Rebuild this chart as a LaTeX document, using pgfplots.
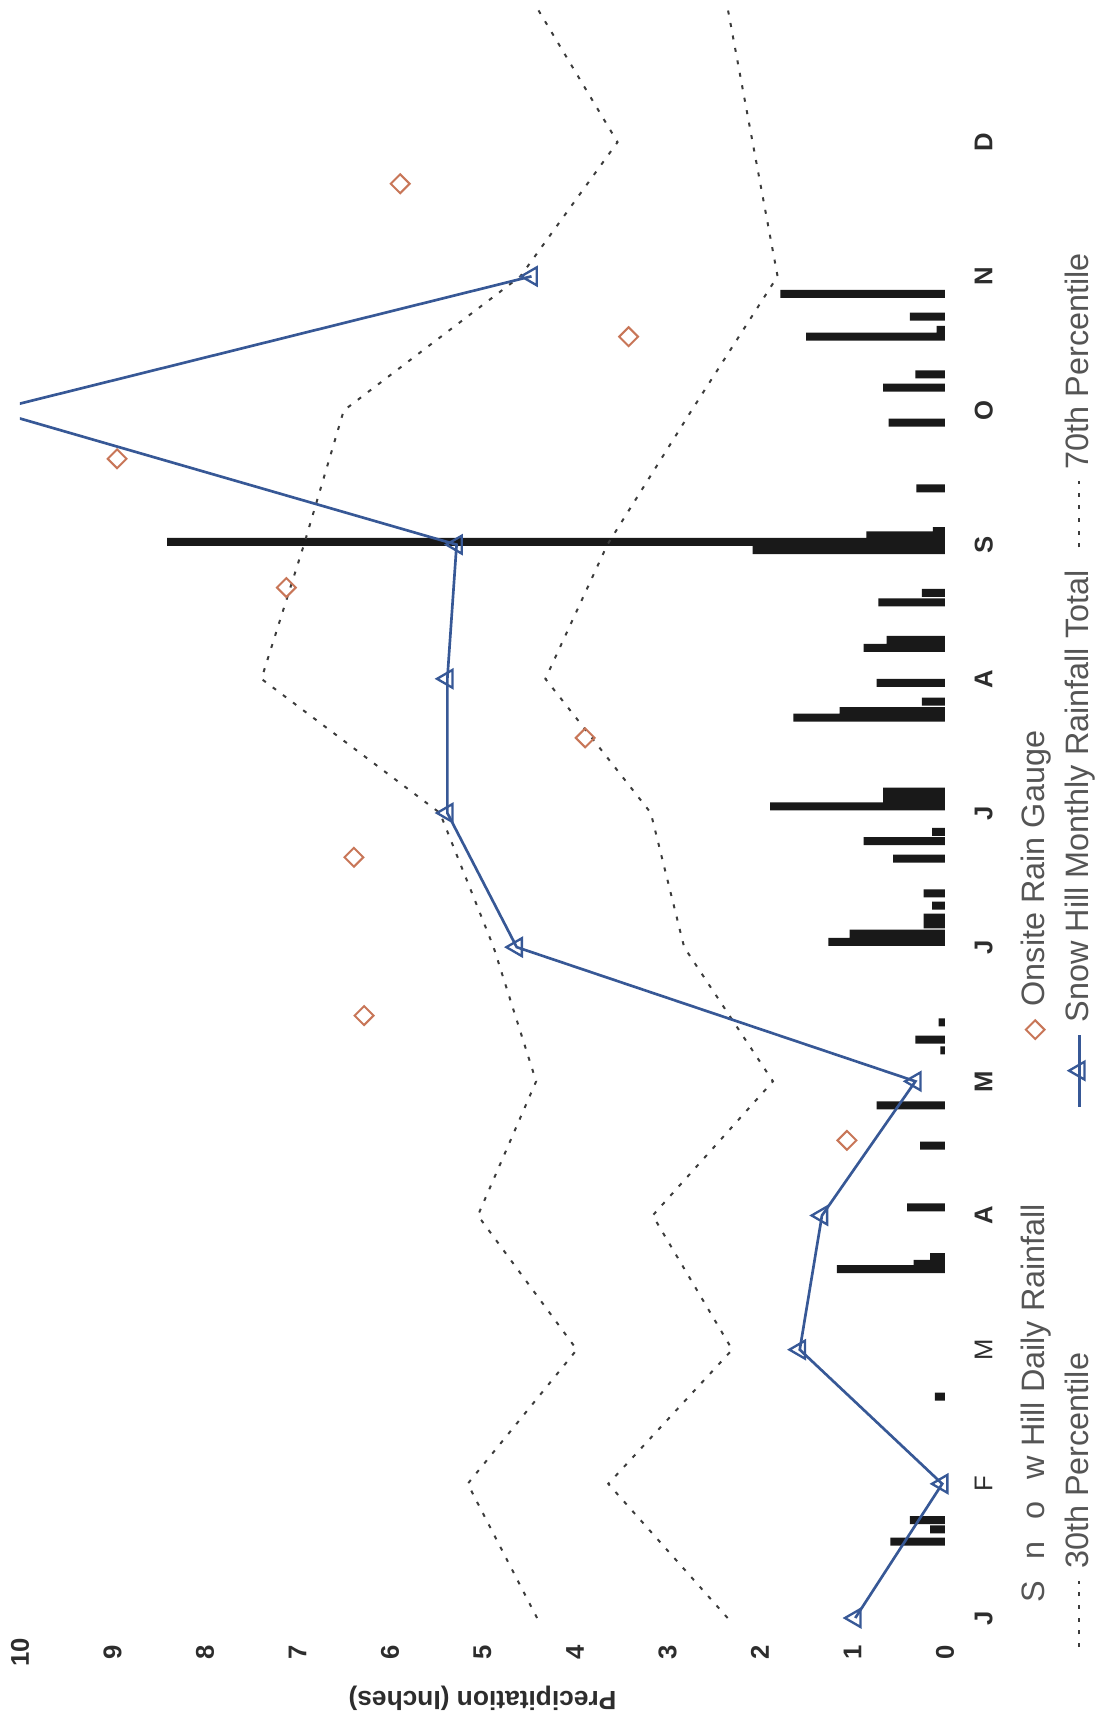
\documentclass[border=0pt]{standalone}
\usepackage{fontspec}
\setmainfont{Liberation Sans}
\usepackage{graphicx}
\usepackage{pgfplots}
\pgfplotsset{compat=1.18}
\definecolor{lineblue}{RGB}{55,88,150}
\definecolor{gauge}{RGB}{200,118,88}
\definecolor{pct}{RGB}{60,60,60}
\definecolor{barblack}{RGB}{25,25,25}
\definecolor{txt}{RGB}{45,45,45}
\definecolor{legtxt}{RGB}{85,85,85}
\pgfplotsset{
  legline/.style={legend image code/.code={\draw[##1] (0pt,0pt) -- (19.8pt,0pt);}},
  legmonthly/.style={legend image code/.code={\draw[mark repeat=2,mark phase=2,##1] plot coordinates {(0pt,0pt) (10.8pt,0pt) (21.6pt,0pt)};}},
  legdiamond/.style={legend image code/.code={%
      \pgfpathmoveto{\pgfpoint{0pt}{0pt}}\pgfpathlineto{\pgfpoint{21.6pt}{0pt}}\pgfusepath{discard}%
      \draw[##1, overlay] (23.1pt,0pt) +(0pt,2.8pt) -- +(2.8pt,0pt) -- +(0pt,-2.8pt) -- +(-2.8pt,0pt) -- cycle;}},
  legblank/.style={legend image code/.code={%
      \pgfpathmoveto{\pgfpoint{0pt}{0pt}}\pgfpathlineto{\pgfpoint{19.8pt}{0pt}}\pgfusepath{discard}}},
}
\begin{document}
\rotatebox{90}{%
\begin{tikzpicture}
\begin{axis}[
  name=ax,
  scale only axis, width=483pt, height=277.5pt,
  xmin=0, xmax=12, ymin=0, ymax=10,
  axis line style={draw=none},
  major tick length=0pt,
  xtick={0,1,2,3,4,5,6,7,8,9,10,11},
  xticklabels={J,{\mdseries F},{\mdseries M},A,M,J,J,A,S,O,N,D},
  ytick={0,1,2,3,4,5,6,7,8,9,10},
  /pgf/number format/assume math mode=true,
  tick label style={font=\fontsize{7.7}{9}\selectfont\bfseries, text=txt},
  xticklabel style={anchor=center, yshift=-11.6pt},
  yticklabel style={anchor=center, xshift=-10.2pt},
  ylabel={Precipitation (Inches)},
  every axis y label/.style={at={(axis description cs:-0.0497,0.5)}, rotate=90, anchor=center, font=\fontsize{7.9}{9}\selectfont\bfseries, text=txt},
  clip=true,
  legend columns=3,
  legend style={at={(axis description cs:0,0)}, anchor=north west, xshift=-9pt, yshift=-22.8pt,
    draw=none, fill=none, inner sep=0pt, outer sep=0pt,
    font=\fontsize{9.72}{11.7}\selectfont,
    nodes={inner sep=0pt, outer sep=0pt, text=legtxt},
    cells={anchor=west}, column sep=3.3pt, row sep=4.7pt,
    /tikz/every even column/.append style={column sep=6.6pt}},
]
% daily rainfall bars
\addplot[ybar, bar width=2.4pt, fill=barblack, draw=none, forget plot] coordinates {
(0.57,0.59) (0.66,0.16) (0.73,0.38)
(1.65,0.11)
(2.60,1.17) (2.64,0.34) (2.69,0.16)
(3.06,0.41) (3.52,0.27) (3.82,0.74)
(4.23,0.05) (4.31,0.32) (4.44,0.07)
(5.04,1.26) (5.10,1.03) (5.17,0.23) (5.22,0.23) (5.31,0.14) (5.40,0.23)
(5.66,0.56) (5.79,0.88) (5.86,0.14)
(6.05,1.89) (6.11,0.67) (6.16,0.67)
(6.71,1.64) (6.76,1.14) (6.83,0.25) (6.97,0.74)
(7.23,0.88) (7.29,0.63) (7.57,0.72) (7.64,0.25)
(7.96,2.08) (8.02,8.41) (8.07,0.85) (8.10,0.13)
(8.42,0.31) (8.91,0.61) (9.17,0.67) (9.27,0.32) (9.55,1.50) (9.60,0.09) (9.70,0.38) (9.87,1.78)
};
% 70th percentile
\addplot[pct, line width=0.6pt, dash pattern=on 1.2pt off 2.6pt, forget plot] coordinates {
(0,4.41) (1,5.16) (2,3.98) (3,5.05) (4,4.42) (5,4.88) (6,5.46) (7,7.39) (8,6.93) (9,6.50) (10,4.59) (11,3.54) (12,4.41)
};
% 30th percentile
\addplot[pct, line width=0.6pt, dash pattern=on 1.2pt off 2.6pt, forget plot] coordinates {
(0,2.35) (1,3.64) (2,2.30) (3,3.16) (4,1.86) (5,2.82) (6,3.18) (7,4.32) (8,3.65) (9,2.74) (10,1.81) (11,2.08) (12,2.35)
};
% monthly total line
\addplot[lineblue, line width=0.8pt, mark=none, forget plot] coordinates {
(0,0.97) (1,0.03) (2,1.57) (3,1.33) (4,0.32) (5,4.63) (6,5.38) (7,5.38) (8,5.28) (9,10.3) (10,4.47)
};
% onsite rain gauge
\addplot[only marks, mark=square, mark size=2pt, mark options={rotate=45, draw=gauge, fill=none, line width=0.6pt}, forget plot] coordinates {
(3.56,1.06) (4.49,6.28) (5.67,6.39) (6.56,3.89) (7.68,7.12) (8.64,8.95) (9.55,3.42) (10.69,5.89)
};
% monthly total markers
\addplot[only marks, mark=triangle, mark size=3.1pt, mark options={draw=lineblue, fill=white, line width=0.7pt}, forget plot] coordinates {
(0,0.97) (1,0.03) (2,1.57) (3,1.33) (4,0.32) (5,4.63) (6,5.38) (7,5.38) (8,5.28) (10,4.47)
};
% legend
\addlegendimage{legblank}
\addlegendentry{\makebox[131.7pt][l]{\hspace*{-10.2pt}S\hspace{0.68em}n\hspace{0.68em}o\hspace{0.68em}w Hill Daily Rainfall}}
\addlegendimage{legdiamond, draw=gauge, line width=0.6pt}
\addlegendentry{\hspace*{4.8pt}Onsite Rain Gauge}
\addlegendimage{empty legend}
\addlegendentry{}
\addlegendimage{legline, pct, line width=0.6pt, dash pattern=on 1.2pt off 2.6pt}
\addlegendentry{30th Percentile}
\addlegendimage{legmonthly, lineblue, line width=0.8pt, mark=triangle, mark size=3.1pt, mark options={solid, fill=white, line width=0.7pt}}
\addlegendentry{Snow Hill Monthly Rainfall Total}
\addlegendimage{legline, pct, line width=0.6pt, dash pattern=on 1.2pt off 2.6pt}
\addlegendentry{70th Percentile}
\end{axis}
\pgfresetboundingbox
\useasboundingbox ([shift={(-30.9pt,-46.2pt)}]ax.south west) rectangle ([shift={(2.4pt,6pt)}]ax.north east);
\end{tikzpicture}%
}
\end{document}
